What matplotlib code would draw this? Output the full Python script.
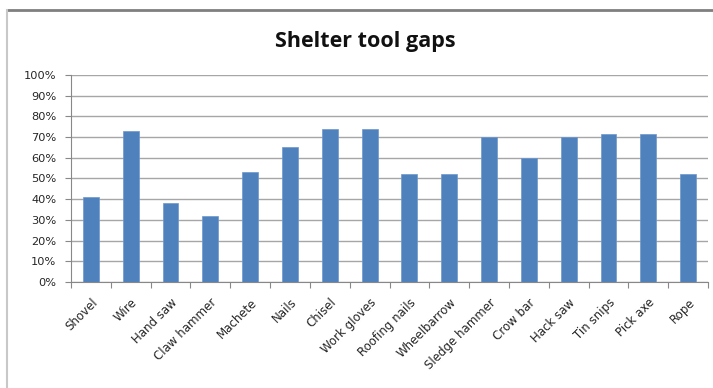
import matplotlib
matplotlib.use("Agg")
import matplotlib.pyplot as plt
from matplotlib.ticker import FuncFormatter, MultipleLocator
from matplotlib.lines import Line2D

tools = ["Shovel", "Wire", "Hand saw", "Claw hammer", "Machete", "Nails", "Chisel",
         "Work gloves", "Roofing nails", "Wheelbarrow", "Sledge hammer", "Crow bar",
         "Hack saw", "Tin snips", "Pick axe", "Rope"]
gap_share = [0.41, 0.73, 0.38, 0.32, 0.53, 0.65, 0.74, 0.74, 0.52, 0.52,
             0.70, 0.60, 0.70, 0.715, 0.715, 0.52]

W, H = 713, 388
fig = plt.figure(figsize=(W / 100, H / 100), dpi=100)
fig.patch.set_facecolor("white")

# plot area in pixel coordinates
left, right, top, bottom = 71, 708, 75, 282
ax = fig.add_axes([left / W, 1 - bottom / H, (right - left) / W, (bottom - top) / H])

label_font = "DejaVu Sans"
title_font = "Open Sans"
x = range(len(tools))
ax.bar(x, gap_share, width=0.4, color="#4F81BD", edgecolor="#6E98CC", linewidth=0.5, zorder=3)

ax.set_xlim(-0.5, len(tools) - 0.5)
ax.set_ylim(0, 1.0)
ax.yaxis.set_major_locator(MultipleLocator(0.1))
ax.yaxis.set_major_formatter(FuncFormatter(lambda v, p: f"{v * 100:.0f}%"))
ax.grid(axis="y", color="#A6A6A6", linewidth=1.0, zorder=0)

ax.set_xticks([i + 0.5 for i in range(-1, len(tools))], minor=False)
ax.set_xticklabels([])
ax.set_xticks(list(x), minor=True)
ax.set_xticklabels(tools, minor=True, rotation=45, ha="right", va="top",
                   rotation_mode="anchor", fontsize=8.5, family=label_font, color="#262626")
ax.tick_params(axis="x", which="minor", length=0, pad=10)
ax.tick_params(axis="x", which="major", length=4, color="#888888", width=0.8)
ax.tick_params(axis="y", length=4, color="#888888", width=0.8, labelsize=8.2,
               labelcolor="#262626", pad=6.5)
for lab in ax.get_yticklabels():
    lab.set_family(label_font)

for s in ["top", "right"]:
    ax.spines[s].set_visible(False)
ax.spines["left"].set_color("#888888")
ax.spines["bottom"].set_color("#888888")
ax.spines["left"].set_linewidth(0.8)
ax.spines["bottom"].set_linewidth(0.8)

fig.text(365 / W, 1 - 41 / H, "Shelter tool gaps", ha="center", va="center",
         fontsize=15.5, fontweight="bold", family=title_font, color="#111111")

# chart frame: top and left edges
fig.add_artist(Line2D([8 / W, 1.0], [1 - 10 / H, 1 - 10 / H], color="#7F7F7F", linewidth=2.0))
fig.add_artist(Line2D([7 / W, 7 / W], [0, 1 - 10 / H], color="#C8C8C8", linewidth=1.5))

fig.savefig("out.png", dpi=100)
